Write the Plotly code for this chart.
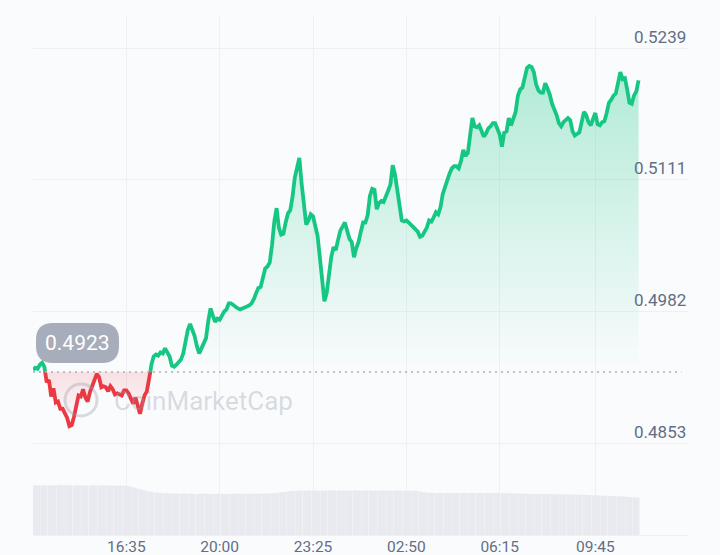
import numpy as np
import pandas as pd
import plotly.graph_objects as go

# ---------------- data (5-minute samples) ----------------
start_time = "2024-01-01 13:10"
interval = "5min"

price = [
    0.4925, 0.4927, 0.4926, 0.4930, 0.4932, 0.4928, 0.4913, 0.4915, 0.4899, 0.4907,
    0.4893, 0.4894, 0.4887, 0.4887, 0.4882, 0.4878, 0.4870, 0.4871, 0.4879, 0.4890,
    0.4900, 0.4899, 0.4906, 0.4898, 0.4894, 0.4903, 0.4910, 0.4915, 0.4921, 0.4918,
    0.4908, 0.4909, 0.4908, 0.4904, 0.4909, 0.4906, 0.4901, 0.4902, 0.4901, 0.4900,
    0.4905, 0.4905, 0.4902, 0.4897, 0.4892, 0.4898, 0.4889, 0.4882, 0.4892, 0.4900,
    0.4904, 0.4915, 0.4930, 0.4938, 0.4940, 0.4939, 0.4942, 0.4941, 0.4946, 0.4942,
    0.4938, 0.4929, 0.4928, 0.4930, 0.4933, 0.4935, 0.4941, 0.4954, 0.4964, 0.4970,
    0.4965, 0.4958, 0.4948, 0.4941, 0.4946, 0.4951, 0.4956, 0.4973, 0.4985, 0.4978,
    0.4972, 0.4975, 0.4974, 0.4978, 0.4982, 0.4984, 0.4990, 0.4990, 0.4988, 0.4987,
    0.4985, 0.4984, 0.4985, 0.4986, 0.4987, 0.4988, 0.4990, 0.4994, 0.5000, 0.5005,
    0.5006, 0.5014, 0.5024, 0.5026, 0.5030, 0.5047, 0.5070, 0.5083, 0.5064, 0.5057,
    0.5058, 0.5069, 0.5078, 0.5081, 0.5094, 0.5113, 0.5125, 0.5132, 0.5107, 0.5087,
    0.5067, 0.5071, 0.5077, 0.5075, 0.5067, 0.5056, 0.5035, 0.5008, 0.4992, 0.5000,
    0.5020, 0.5035, 0.5045, 0.5042, 0.5052, 0.5061, 0.5065, 0.5069, 0.5061, 0.5053,
    0.5050, 0.5035, 0.5044, 0.5050, 0.5060, 0.5069, 0.5069, 0.5076, 0.5095, 0.5102,
    0.5101, 0.5082, 0.5088, 0.5090, 0.5089, 0.5096, 0.5100, 0.5106, 0.5125, 0.5116,
    0.5101, 0.5088, 0.5071, 0.5070, 0.5071, 0.5069, 0.5067, 0.5064, 0.5062, 0.5060,
    0.5055, 0.5056, 0.5060, 0.5064, 0.5071, 0.5070, 0.5074, 0.5079, 0.5077, 0.5084,
    0.5097, 0.5104, 0.5112, 0.5117, 0.5122, 0.5124, 0.5124, 0.5122, 0.5129, 0.5140,
    0.5134, 0.5137, 0.5154, 0.5171, 0.5163, 0.5162, 0.5164, 0.5159, 0.5153, 0.5156,
    0.5161, 0.5163, 0.5166, 0.5166, 0.5161, 0.5155, 0.5143, 0.5157, 0.5158, 0.5171,
    0.5164, 0.5171, 0.5177, 0.5193, 0.5199, 0.5201, 0.5213, 0.5220, 0.5222, 0.5221,
    0.5216, 0.5204, 0.5198, 0.5196, 0.5196, 0.5205, 0.5200, 0.5194, 0.5185, 0.5180,
    0.5174, 0.5166, 0.5163, 0.5167, 0.5169, 0.5171, 0.5169, 0.5158, 0.5154, 0.5156,
    0.5157, 0.5167, 0.5177, 0.5174, 0.5167, 0.5164, 0.5170, 0.5176, 0.5165, 0.5164,
    0.5167, 0.5168, 0.5176, 0.5186, 0.5189, 0.5193, 0.5195, 0.5207, 0.5216, 0.5209,
    0.5210, 0.5199, 0.5186, 0.5185, 0.5193, 0.5197, 0.5208,
]

volume_musd = [
    330, 331, 330, 331, 332, 331, 330, 331, 331, 330, 331, 332, 331, 330, 330, 331, 332, 330, 331, 330,
    331, 330, 331, 330, 329, 330, 331, 330, 331, 330, 330, 331, 330, 329, 330, 329, 330, 329, 329, 329,
    329, 328, 326, 322, 318, 315, 310, 306, 302, 298, 294, 290, 287, 285, 283, 282,
    280, 279, 278, 277, 277, 276, 276, 275, 275, 275, 274, 275, 274, 274, 275, 274, 273, 274, 274, 275,
    274, 275, 274, 273, 274, 275, 274, 274, 273, 274, 274, 275, 275, 276, 275, 274, 275, 274, 275, 274,
    275, 274, 275, 276, 275, 276, 276, 277, 276, 277,
    278, 280, 282, 284, 286, 288, 290, 292,
    293, 294, 294, 295, 295, 296, 295, 296, 296, 295, 296, 295, 296, 296, 295, 296, 297, 296, 296, 295,
    296, 295, 296, 297, 296, 295, 296, 296, 297, 296, 296, 295, 296, 297, 296, 296, 295, 296, 295, 296,
    296, 295, 296, 295, 295, 296, 295, 295, 296, 295, 295, 295, 294, 294,
    293, 292, 290, 287, 285, 283,
    282, 281, 281, 280, 280, 280, 280, 281, 281, 280, 280, 279, 280, 280, 281, 280, 280, 279, 280, 280,
    281, 280, 280, 279, 279, 280, 280, 279, 279, 279, 279, 278, 278, 278,
    277, 277, 277, 276, 276, 276, 276, 275, 275, 275, 274, 274, 274, 273, 273, 273, 272, 272, 272, 272,
    271, 271, 271, 271, 270, 270, 270, 269, 269, 269, 268, 268, 268, 268,
    267, 266, 266, 265, 265, 264, 264, 263, 262, 262, 261, 260, 260, 259, 258, 257, 257, 256, 255, 254,
    253, 252, 251, 250, 249,
]

ref_price = 0.4923
ref_label = "0.4923"

ytick_vals = [0.4853, 0.4982, 0.5111, 0.5239]
ytick_text = ["0.4853", "0.4982", "0.5111", "0.5239"]

xtick_times = ["2024-01-01 16:35", "2024-01-01 20:00", "2024-01-01 23:25",
               "2024-01-02 02:50", "2024-01-02 06:15", "2024-01-02 09:45"]
xtick_text = ["16:35", "20:00", "23:25", "02:50", "06:15", "09:45"]

# ---------------- styling ----------------
W, H = 720, 555
ml, mr, mt, mb = 33, 32, 16, 20
GREEN = "#16c784"
RED = "#ea3943"
GRID = "#eef0f3"
BG = "#fafbfd"
TXT = "#616e85"

times = pd.date_range(start_time, periods=len(price), freq=interval)

# insert baseline crossings so the colour switches exactly at the reference price
xs, ys = [], []
for i in range(len(price)):
    if i > 0:
        p0, p1 = price[i - 1], price[i]
        if (p0 - ref_price) * (p1 - ref_price) < 0:
            f = (ref_price - p0) / (p1 - p0)
            xs.append(times[i - 1] + (times[i] - times[i - 1]) * f)
            ys.append(ref_price)
    xs.append(times[i])
    ys.append(price[i])
ys = np.array(ys)
green_y = [y if y >= ref_price else None for y in ys]
red_y = [y if y <= ref_price else None for y in ys]
up_y = np.maximum(ys, ref_price)
dn_y = np.minimum(ys, ref_price)
base_y = np.full(len(ys), ref_price)

fig = go.Figure()

fig.add_trace(go.Scatter(x=xs, y=base_y, mode="lines", line=dict(width=0), hoverinfo="skip"))
fig.add_trace(go.Scatter(
    x=xs, y=up_y, mode="lines", line=dict(width=0), fill="tonexty",
    fillgradient=dict(type="vertical", start=ref_price, stop=max(price),
                      colorscale=[[0, "rgba(22,199,132,0)"], [1, "rgba(22,199,132,0.32)"]]),
    hoverinfo="skip"))
fig.add_trace(go.Scatter(x=xs, y=base_y, mode="lines", line=dict(width=0), hoverinfo="skip"))
fig.add_trace(go.Scatter(
    x=xs, y=dn_y, mode="lines", line=dict(width=0), fill="tonexty",
    fillgradient=dict(type="vertical", start=min(price), stop=ref_price,
                      colorscale=[[0, "rgba(234,57,67,0)"], [1, "rgba(234,57,67,0.14)"]]),
    hoverinfo="skip"))
fig.add_trace(go.Scatter(x=xs, y=red_y, mode="lines", line=dict(color=RED, width=3.8),
                         connectgaps=False))
fig.add_trace(go.Scatter(x=xs, y=green_y, mode="lines", line=dict(color=GREEN, width=3.8),
                         connectgaps=False))

fig.add_trace(go.Bar(x=times, y=volume_musd, yaxis="y2",
                     marker=dict(color="#e8eaef", line=dict(width=0)), hoverinfo="skip"))

# ---------------- layout ----------------
x_end = pd.Timestamp(start_time) + pd.Timedelta(minutes=1438.6)
PW, PH = W - ml - mr, H - mt - mb


def px(x, y):
    """screen pixel -> paper coordinates (paper = plot area)"""
    return (x - ml) / PW, 1 - (y - mt) / PH


# rounded badge for the reference price
bx0, by0, bx1, by1, r = 36, 323, 119, 363, 17
pts = [
    ("M", [(bx0 + r, by0)]), ("L", [(bx1 - r, by0)]), ("Q", [(bx1, by0), (bx1, by0 + r)]),
    ("L", [(bx1, by1 - r)]), ("Q", [(bx1, by1), (bx1 - r, by1)]), ("L", [(bx0 + r, by1)]),
    ("Q", [(bx0, by1), (bx0, by1 - r)]), ("L", [(bx0, by0 + r)]), ("Q", [(bx0, by0), (bx0 + r, by0)]),
]
path = ""
for cmd, pp in pts:
    path += cmd + " " + " ".join("%.5f,%.5f" % px(a, b) for a, b in pp) + " "
path += "Z"

lx0, ly0 = px(65, 384)
lx1, ly1 = px(97, 416)
shapes = [
    dict(type="line", xref="x domain", yref="y", x0=0, x1=0.99, y0=ref_price, y1=ref_price,
         line=dict(color="#a9aebb", width=1.5, dash="2px,4px"), layer="above"),
    dict(type="path", xref="paper", yref="paper", path=path, fillcolor="#a7adba",
         line=dict(width=0), layer="above"),
    dict(type="circle", xref="paper", yref="paper", x0=lx0, x1=lx1, y0=ly1, y1=ly0,
         line=dict(color="rgba(150,156,170,0.35)", width=3), layer="above"),
]

bcx, bcy = px(77.5, 343)
wmx, wmy = px(203.5, 401)
annotations = [
    dict(x=bcx, y=bcy, xref="paper", yref="paper", text=ref_label, showarrow=False,
         font=dict(family="Roboto", size=21, color="white"), xanchor="center", yanchor="middle"),
    dict(x=wmx, y=wmy, xref="paper", yref="paper", text="CoinMarketCap", showarrow=False,
         font=dict(family="Roboto", size=26, color="rgba(150,156,170,0.35)"),
         xanchor="center", yanchor="middle"),
]
for v, t in zip(ytick_vals, ytick_text):
    annotations.append(dict(x=1, xref="x domain", y=v, yref="y", text=t, showarrow=False,
                            xanchor="right", yanchor="middle", yshift=12,
                            font=dict(family="Roboto", size=17, color=TXT)))

fig.update_layout(
    width=W, height=H,
    margin=dict(l=ml, r=mr, t=mt, b=mb, pad=0, autoexpand=False),
    paper_bgcolor=BG, plot_bgcolor=BG,
    showlegend=False,
    bargap=0.2,
    font=dict(family="Roboto", color=TXT),
    xaxis=dict(type="date", range=[pd.Timestamp(start_time), x_end], automargin=False,
               tickmode="array", tickvals=xtick_times, ticktext=xtick_text,
               showgrid=True, gridcolor=GRID, gridwidth=1, zeroline=False,
               showline=True, linecolor=GRID, linewidth=1, ticks="",
               ticklabelstandoff=-3,
               tickfont=dict(family="Roboto", size=15.5, color=TXT)),
    yaxis=dict(range=[0.47636, 0.52708], tickmode="array", tickvals=ytick_vals, automargin=False,
               showticklabels=False, showgrid=True, gridcolor=GRID, gridwidth=1,
               zeroline=False, fixedrange=True),
    yaxis2=dict(overlaying="y", range=[0, 3453], visible=False, showgrid=False, automargin=False),
    shapes=shapes,
    annotations=annotations,
)

fig.write_html("out.html")
